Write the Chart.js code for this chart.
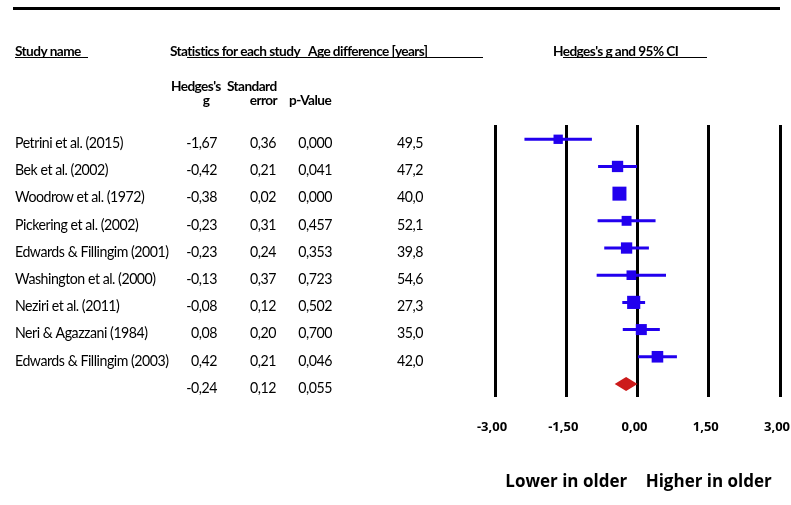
<!DOCTYPE html>
<html>
<head>
<meta charset="utf-8">
<script src="https://cdn.jsdelivr.net/npm/chart.js@4.4.0/dist/chart.umd.min.js"></script>
<style>
  html, body { margin: 0; padding: 0; background: #fff; }
  #wrap { width: 791px; height: 505px; }
</style>
</head>
<body>
<div id="wrap"><canvas id="forest" width="791" height="505"></canvas></div>
<script>
// study rows
const studies = [
    "Petrini et al. (2015)",
    "Bek et al. (2002)",
    "Woodrow et al. (1972)",
    "Pickering et al. (2002)",
    "Edwards & Fillingim (2001)",
    "Washington et al. (2000)",
    "Neziri et al. (2011)",
    "Neri & Agazzani (1984)",
    "Edwards & Fillingim (2003)",
];
const hedgesG = [-1.67, -0.42, -0.38, -0.23, -0.23, -0.13, -0.08, 0.08, 0.42];
const stdErr = [0.36, 0.21, 0.02, 0.31, 0.24, 0.37, 0.12, 0.20, 0.21];
const pValues = [0.000, 0.041, 0.000, 0.457, 0.353, 0.723, 0.502, 0.700, 0.046];
const ageDiff = [49.5, 47.2, 40.0, 52.1, 39.8, 54.6, 27.3, 35.0, 42.0];
const ciLower = [-2.38, -0.83, -0.42, -0.84, -0.70, -0.86, -0.32, -0.31, 0.01];
const ciUpper = [-0.96, -0.01, -0.34, 0.38, 0.24, 0.60, 0.16, 0.47, 0.83];

// pooled estimate
const summaryG = -0.24;
const summarySE = 0.12;
const summaryP = 0.055;
const summaryLower = -0.48;
const summaryUpper = 0.00;

const xTicks = [-3, -1.5, 0, 1.5, 3];

const BLUE = "#2200ee";
const RED = "#cc1b1b";

const comma = (v, d) => v.toFixed(d).replace(".", ",");

function squeezed(ctx, text, x, y, align, sx) {
    ctx.save();
    ctx.translate(x, y);
    ctx.scale(sx, 1);
    ctx.textAlign = align;
    ctx.fillText(text, 0, 0);
    ctx.restore();
}

// CI segments, one line broken by gaps
const ciPoints = [];
studies.forEach((s, i) => {
    ciPoints.push({ x: ciLower[i], y: i + 1 });
    ciPoints.push({ x: ciUpper[i], y: i + 1 });
    ciPoints.push({ x: null, y: null });
});

const diamondPlugin = {
    id: "diamond",
    afterDatasetsDraw(chart) {
        const ctx = chart.ctx;
        const xs = chart.scales.x;
        const y = chart.scales.y.getPixelForValue(studies.length + 1);
        ctx.save();
        ctx.fillStyle = RED;
        ctx.beginPath();
        ctx.moveTo(xs.getPixelForValue(summaryLower), y);
        ctx.lineTo(xs.getPixelForValue(summaryG), y - 7);
        ctx.lineTo(xs.getPixelForValue(summaryUpper), y);
        ctx.lineTo(xs.getPixelForValue(summaryG), y + 7);
        ctx.closePath();
        ctx.fill();
        ctx.restore();
    },
};

const tablePlugin = {
    id: "table",
    afterDraw(chart) {
        const ctx = chart.ctx;
        const xs = chart.scales.x;
        const ys = chart.scales.y;
        ctx.save();
        ctx.fillStyle = "#000";
        ctx.textBaseline = "middle";

        ctx.fillRect(13, 7, 767, 3);

        // header lines (tight spacing, like the original Calibri)
        ctx.letterSpacing = "-0.6px";
        ctx.font = "bold 14px Lato";
        const hsx = 130 / ctx.measureText("Statistics for each study").width;
        squeezed(ctx, "Study name", 15, 51, "left", hsx);
        squeezed(ctx, "Statistics for each study", 170, 51, "left", hsx);
        squeezed(ctx, "Age difference [years]", 308, 51, "left", hsx);
        squeezed(ctx, "Hedges's g and 95% CI", 553, 51, "left", hsx);
        ctx.fillRect(15, 57, 73, 1);
        ctx.fillRect(187, 57, 296, 1);
        ctx.fillRect(563, 57, 144, 1);

        squeezed(ctx, "Hedges's", 171, 86, "left", hsx);
        squeezed(ctx, "g", 206, 100, "center", hsx);
        squeezed(ctx, "Standard", 227, 86, "left", hsx);
        squeezed(ctx, "error", 277, 100, "right", hsx);
        squeezed(ctx, "p-Value", 289, 100, "left", hsx);

        // rows
        ctx.letterSpacing = "-0.5px";
        ctx.font = "15px Lato";
        const bsx = 108 / ctx.measureText(studies[0]).width;
        studies.forEach((s, i) => {
            const y = ys.getPixelForValue(i + 1) + 4;
            squeezed(ctx, s, 15, y, "left", bsx);
            squeezed(ctx, comma(hedgesG[i], 2), 217, y, "right", bsx);
            squeezed(ctx, comma(stdErr[i], 2), 276, y, "right", bsx);
            squeezed(ctx, comma(pValues[i], 3), 332, y, "right", bsx);
            squeezed(ctx, comma(ageDiff[i], 1), 423, y, "right", bsx);
        });
        const sy = ys.getPixelForValue(studies.length + 1) + 4;
        squeezed(ctx, comma(summaryG, 2), 217, sy, "right", bsx);
        squeezed(ctx, comma(summarySE, 2), 276, sy, "right", bsx);
        squeezed(ctx, comma(summaryP, 3), 332, sy, "right", bsx);

        // direction labels
        ctx.letterSpacing = "0px";
        ctx.font = "bold 17px 'Open Sans'";
        ctx.textAlign = "center";
        ctx.fillText("Lower in older", xs.getPixelForValue(-1.5), 482);
        ctx.fillText("Higher in older", xs.getPixelForValue(1.5), 482);
        ctx.restore();
    },
};

new Chart(document.getElementById("forest").getContext("2d"), {
    type: "scatter",
    data: {
        datasets: [
            {
                label: "CI",
                data: ciPoints,
                showLine: true,
                spanGaps: false,
                borderColor: BLUE,
                borderWidth: 3,
                pointRadius: 0,
                order: 2,
            },
            {
                label: "Hedges's g",
                data: hedgesG.map((g, i) => ({ x: g, y: i + 1 })),
                pointStyle: "rect",
                pointRadius: [6.6, 8, 9.9, 7, 8, 6.8, 9.3, 7.8, 8.2],
                backgroundColor: BLUE,
                borderWidth: 0,
                order: 1,
            },
        ],
    },
    options: {
        responsive: false,
        animation: false,
        layout: { padding: { left: 495, right: 11, top: 125, bottom: 0 } },
        plugins: {
            legend: { display: false },
            tooltip: { enabled: false },
        },
        scales: {
            x: {
                type: "linear",
                min: -3,
                max: 3,
                afterBuildTicks: (scale) => {
                    scale.ticks = xTicks.map((v) => ({ value: v }));
                },
                afterFit: (scale) => {
                    scale.height = 108;
                    scale.paddingLeft = 0;
                    scale.paddingRight = 0;
                },
                grid: { color: "#000", lineWidth: 3, drawTicks: false },
                border: { display: false },
                ticks: {
                    padding: 22,
                    labelOffset: -3,
                    maxRotation: 0,
                    color: "#000",
                    font: { family: "Open Sans", weight: "bold", size: 13 },
                    callback: (v) => comma(v, 2),
                },
            },
            y: {
                type: "linear",
                min: 0.475,
                max: 10.48,
                reverse: true,
                display: false,
            },
        },
    },
    plugins: [diamondPlugin, tablePlugin],
});
</script>
</body>
</html>
